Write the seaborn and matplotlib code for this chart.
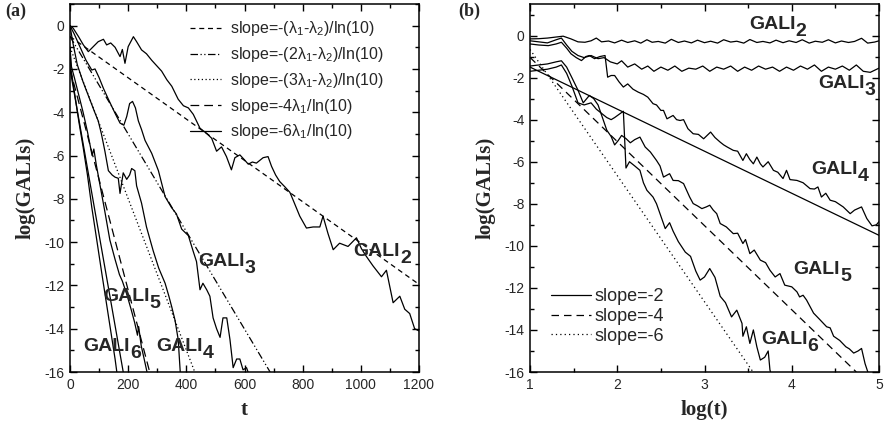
import matplotlib
matplotlib.use('Agg')
import matplotlib.pyplot as plt
import seaborn as sns
from matplotlib.ticker import MultipleLocator

# ---- panel (a): log(GALI) vs t ----
t2 = [0, 11, 29, 46, 63, 80, 97, 115, 126, 140, 155, 172, 180, 189, 200, 218, 229, 246,
      263, 281, 298, 315, 333, 350, 372, 390, 407, 424, 447, 469, 487, 504, 521, 538, 555,
      567, 584, 600, 613, 627, 641, 664, 681, 693, 707, 721, 739, 756, 767, 790, 813, 836,
      859, 870, 887, 905, 927, 956, 985, 1002, 1019, 1042, 1071, 1088, 1111, 1134, 1151,
      1168, 1185, 1200]
a_gali2 = [0, -0.12, -0.5, -0.89, -1.2, -0.97, -0.74, -0.63, -0.89, -0.8, -1.0, -1.43, -1.1,
           -1.74, -0.97, -0.51, -0.74, -1.12, -1.3, -1.6, -1.85, -2.1, -2.5, -2.8, -3.4, -3.7,
           -3.8, -4.1, -4.74, -4.97, -5.2, -5.8, -5.6, -6.05, -6.66, -6.1, -5.97, -6.2, -6.4,
           -6.3, -6.35, -6.1, -6.05, -6.5, -6.9, -7.2, -7.45, -7.7, -8.05, -8.8, -9.35, -9.3,
           -9.3, -8.8, -9.6, -10.35, -10.05, -10.2, -9.8, -10.3, -10.66, -11.1, -11.6, -11.3,
           -12.8, -12.5, -13.1, -13.3, -14.0, -14.1]

t3 = [0, 15, 35, 55, 75, 86, 100, 115, 132, 155, 172, 185, 195, 205, 215, 225, 235, 246,
      258, 281, 304, 327, 349, 366, 384, 407, 423, 435, 447, 457, 470, 481, 492, 504, 516,
      526, 539, 550, 561, 573, 584, 595, 607, 620]
a_gali3 = [0, -0.4, -1.0, -1.6, -2.05, -2.0, -2.4, -2.9, -3.4, -4.05, -4.5, -4.6, -4.2, -3.6,
           -3.5, -3.8, -4.4, -4.8, -5.3, -5.9, -6.7, -7.9, -8.4, -8.7, -9.4, -9.7, -10.4,
           -10.9, -12.2, -11.9, -12.2, -12.5, -13.5, -14.0, -14.4, -13.5, -13.5, -14.5, -15.8,
           -15.4, -15.4, -15.9, -15.8, -16.3]

t4 = [0, 10, 25, 45, 65, 85, 97, 108, 120, 132, 145, 155, 166, 172, 183, 195, 205, 212, 223,
      229, 246, 263, 286, 305, 327, 340, 350, 361, 372, 380]
a_gali4 = [0, -0.8, -1.8, -2.6, -3.3, -4.0, -4.4, -5.0, -5.8, -6.7, -6.9, -7.0, -7.05, -7.75,
           -6.8, -7.1, -6.9, -6.6, -6.7, -7.4, -8.2, -9.3, -10.4, -11.2, -11.9, -12.5, -13.0,
           -13.6, -14.5, -16.2]

t5 = [0, 5, 15, 30, 45, 60, 76, 82, 90, 105, 120, 137, 155, 170, 180, 195, 210, 222, 232,
      236, 245, 255, 268]
a_gali5 = [-1.0, -1.9, -2.4, -3.2, -4.0, -4.9, -6.0, -5.7, -6.4, -7.5, -8.6, -9.9, -10.8,
           -11.5, -11.8, -12.4, -13.1, -13.7, -14.3, -13.9, -14.8, -15.4, -16.2]

t6 = [0, 3, 10, 20, 30, 45, 60, 75, 92, 110, 125, 140, 155, 163]
a_gali6 = [-1.0, -2.0, -2.6, -3.5, -4.4, -5.6, -6.9, -8.4, -9.9, -11.5, -12.8, -14.1, -15.4,
           -16.2]

# reference slopes in (a): endpoints (t, log GALI)
a_ref_labels = ['slope=-(λ$_1$-λ$_2$)/ln(10)', 'slope=-(2λ$_1$-λ$_2$)/ln(10)',
                'slope=-(3λ$_1$-λ$_2$)/ln(10)', 'slope=-4λ$_1$/ln(10)',
                'slope=-6λ$_1$/ln(10)']
a_ref_t = [[0, 1200], [0, 688], [0, 429], [0, 274], [0, 183]]
a_ref_y = [[-0.5, -11.95], [-0.5, -16], [-1.0, -16], [-2.0, -16], [-2.0, -16]]
a_ref_ls = [(0, (4, 3)), (0, (6, 2, 1, 2, 1, 2)), (0, (1, 2)), (0, (7, 4)), '-']

# ---- panel (b): log(GALI) vs log(t) ----
b_x2 = [1.0, 1.1, 1.2, 1.28, 1.38, 1.47, 1.55, 1.63, 1.7, 1.76, 1.82, 1.9, 1.97, 2.05, 2.12,
        2.2, 2.27, 2.34, 2.4, 2.47, 2.55, 2.62, 2.7, 2.77, 2.85, 2.92, 3.0, 3.07, 3.15, 3.22,
        3.3, 3.37, 3.45, 3.52, 3.6, 3.67, 3.75, 3.82, 3.9, 3.97, 4.05, 4.12, 4.2, 4.27, 4.35,
        4.42, 4.5, 4.57, 4.65, 4.72, 4.8, 4.87, 4.95, 5.0]
b_gali2 = [-0.16, -0.15, -0.12, -0.08, -0.03, -0.16, -0.3, -0.32, -0.25, -0.12, -0.3, -0.26,
           -0.35, -0.22, -0.33, -0.25, -0.36, -0.2, -0.32, -0.28, -0.36, -0.18, -0.33, -0.26,
           -0.35, -0.22, -0.34, -0.27, -0.36, -0.2, -0.31, -0.27, -0.36, -0.19, -0.33, -0.28,
           -0.35, -0.22, -0.34, -0.25, -0.33, -0.2, -0.36, -0.27, -0.32, -0.2, -0.35, -0.26,
           -0.33, -0.28, -0.13, -0.36, -0.31, -0.25]

b_x3 = [1.0, 1.1, 1.2, 1.3, 1.36, 1.42, 1.48, 1.55, 1.62, 1.7, 1.78, 1.85, 1.92, 2.0, 2.05,
        2.12, 2.2, 2.28, 2.35, 2.42, 2.5, 2.58, 2.66, 2.74, 2.82, 2.9, 2.98, 3.06, 3.14, 3.22,
        3.3, 3.38, 3.46, 3.54, 3.62, 3.7, 3.78, 3.86, 3.94, 4.02, 4.1, 4.18, 4.26, 4.34, 4.42,
        4.5, 4.58, 4.66, 4.74, 4.82, 4.9, 5.0]
b_gali3 = [-0.25, -0.3, -0.35, -0.2, -0.12, -0.45, -0.75, -0.95, -1.05, -0.95, -1.1, -1.05,
           -1.25, -1.35, -1.2, -1.5, -1.35, -1.6, -1.45, -1.7, -1.5, -1.65, -1.45, -1.7, -1.55,
           -1.6, -1.45, -1.7, -1.5, -1.6, -1.45, -1.7, -1.5, -1.65, -1.45, -1.6, -1.5, -1.7,
           -1.5, -1.65, -1.45, -1.6, -1.4, -1.7, -1.5, -1.6, -1.45, -1.65, -1.4, -1.7, -1.75,
           -1.55]

b_x4 = [1.0, 1.1, 1.21, 1.3, 1.36, 1.42, 1.47, 1.53, 1.59, 1.64, 1.68, 1.74, 1.8, 1.86, 1.89,
        1.93, 1.97, 2.02, 2.07, 2.12, 2.18, 2.24, 2.3, 2.35, 2.41, 2.45, 2.5, 2.53, 2.57, 2.64,
        2.68, 2.72, 2.76, 2.81, 2.87, 2.93, 2.99, 3.07, 3.12, 3.18, 3.22, 3.26, 3.33, 3.38,
        3.44, 3.48, 3.52, 3.56, 3.6, 3.64, 3.67, 3.73, 3.79, 3.84, 3.9, 3.94, 3.98, 4.06, 4.13,
        4.21, 4.26, 4.3, 4.34, 4.39, 4.44, 4.5, 4.59, 4.67, 4.72, 4.8, 4.86, 4.92, 4.97, 5.0]
b_gali4 = [-0.4, -0.45, -0.48, -0.4, -0.32, -0.6, -0.87, -1.05, -1.19, -1.0, -0.95, -1.1,
           -1.0, -0.95, -1.98, -1.9, -1.9, -2.2, -2.45, -2.3, -2.55, -2.69, -2.8, -2.93, -3.24,
           -3.3, -3.56, -3.56, -3.96, -3.8, -4.0, -4.04, -4.0, -4.43, -4.67, -4.7, -4.91, -4.59,
           -4.85, -5.07, -5.2, -5.3, -5.46, -5.5, -5.94, -5.62, -5.9, -6.1, -5.78, -6.1, -6.25,
           -6.0, -6.41, -6.5, -6.8, -6.41, -6.85, -6.89, -7.0, -7.28, -7.3, -7.2, -7.68, -7.5,
           -7.83, -7.9, -8.15, -8.47, -8.3, -8.15, -8.7, -9.05, -9.0, -8.85]

b_x5 = [1.0, 1.1, 1.2, 1.3, 1.36, 1.42, 1.48, 1.55, 1.61, 1.68, 1.73, 1.78, 1.83, 1.88, 1.93,
        1.97, 2.01, 2.05, 2.1, 2.15, 2.2, 2.26, 2.32, 2.38, 2.45, 2.49, 2.53, 2.6, 2.64, 2.7,
        2.76, 2.83, 2.87, 2.92, 2.97, 3.02, 3.06, 3.1, 3.14, 3.18, 3.25, 3.33, 3.38, 3.44,
        3.47, 3.52, 3.57, 3.64, 3.7, 3.75, 3.81, 3.865, 3.92, 4.0, 4.06, 4.09, 4.13, 4.17,
        4.25, 4.32, 4.4, 4.44, 4.48, 4.55, 4.62, 4.66, 4.71, 4.76, 4.8, 4.84, 4.88]
b_gali5 = [-1.45, -1.4, -1.35, -1.25, -1.2, -1.5, -2.0, -2.6, -3.2, -2.85, -3.0, -3.3, -3.9,
           -4.5, -4.8, -5.2, -5.0, -4.75, -4.9, -5.1, -4.95, -4.83, -5.3, -5.54, -5.94, -6.2,
           -6.73, -6.57, -6.89, -6.9, -7.04, -7.68, -7.99, -8.1, -8.23, -8.15, -8.07, -8.3,
           -8.47, -8.94, -9.1, -9.42, -9.4, -9.89, -9.7, -10.37, -10.2, -10.68, -10.8, -11.16,
           -11.48, -11.32, -11.87, -11.95, -12.19, -12.43, -12.35, -12.58, -13.2, -13.5,
           -13.85, -13.9, -14.3, -14.5, -14.8, -14.9, -15.1, -15.0, -14.88, -15.6, -16.1]

b_x6 = [1.0, 1.1, 1.2, 1.3, 1.36, 1.42, 1.48, 1.55, 1.62, 1.7, 1.76, 1.82, 1.88, 1.93, 1.97,
        2.02, 2.07, 2.1, 2.14, 2.2, 2.26, 2.3, 2.34, 2.41, 2.45, 2.49, 2.55, 2.6, 2.64, 2.7,
        2.78, 2.84, 2.9, 2.95, 3.0, 3.06, 3.12, 3.18, 3.24, 3.31, 3.37, 3.43, 3.44, 3.48, 3.52,
        3.56, 3.6, 3.64, 3.69, 3.73, 3.75, 3.77]
b_gali6 = [-1.7, -1.65, -1.6, -1.5, -1.4, -1.8, -2.4, -3.2, -3.3, -3.2, -3.5, -3.7, -3.9,
           -4.0, -3.9, -3.75, -3.6, -6.3, -6.0, -6.2, -6.41, -7.0, -7.36, -7.68, -8.0, -8.47,
           -9.18, -8.9, -9.3, -9.8, -10.3, -10.5, -11.2, -11.63, -11.48, -11.08, -11.5, -12.4,
           -12.7, -13.38, -13.06, -13.69, -14.3, -13.85, -14.64, -14.0, -14.8, -15.43, -15.3,
           -15.0, -15.9, -16.2]

b_ref_labels = ['slope=-2', 'slope=-4', 'slope=-6']
b_ref_x = [[1, 5], [1, 4.74], [1, 3.557]]
b_ref_y = [[-1.5, -9.5], [-1.04, -16], [-0.66, -16]]
b_ref_ls = ['-', (0, (6, 4)), (0, (1, 2.5))]

sns.set_style('ticks')
plt.rcParams['font.family'] = ['Liberation Sans', 'DejaVu Sans']
plt.rcParams['mathtext.default'] = 'regular'
plt.rcParams['axes.unicode_minus'] = False

fig = plt.figure(figsize=(8.85, 4.34), dpi=100)
axa = fig.add_axes([70 / 885, 1 - 372 / 434, 349 / 885, 368 / 434])
axb = fig.add_axes([530 / 885, 1 - 372 / 434, 349 / 885, 368 / 434])

lw = 0.9
for x, y in [(t2, a_gali2), (t3, a_gali3), (t4, a_gali4), (t5, a_gali5), (t6, a_gali6)]:
    sns.lineplot(x=x, y=y, ax=axa, color='black', lw=lw, estimator=None, sort=False)
for x, y, ls, lab in zip(a_ref_t, a_ref_y, a_ref_ls, a_ref_labels):
    axa.plot(x, y, color='black', lw=lw, linestyle=ls, label=lab)

for x, y in [(b_x2, b_gali2), (b_x3, b_gali3), (b_x4, b_gali4), (b_x5, b_gali5),
             (b_x6, b_gali6)]:
    sns.lineplot(x=x, y=y, ax=axb, color='black', lw=lw, estimator=None, sort=False)
for x, y, ls, lab in zip(b_ref_x, b_ref_y, b_ref_ls, b_ref_labels):
    axb.plot(x, y, color='black', lw=lw, linestyle=ls, label=lab)


def style(ax, xlim, ylim, xmaj, xmin):
    ax.set_xlim(*xlim)
    ax.set_ylim(*ylim)
    ax.xaxis.set_major_locator(MultipleLocator(xmaj))
    ax.xaxis.set_minor_locator(MultipleLocator(xmin))
    ax.yaxis.set_major_locator(MultipleLocator(2))
    ax.yaxis.set_minor_locator(MultipleLocator(1))
    ax.tick_params(which='both', direction='in', top=True, right=True, width=1,
                   labelsize=10, color='black', pad=4)
    ax.tick_params(which='major', length=5)
    ax.tick_params(which='minor', length=3)
    for sp in ax.spines.values():
        sp.set_linewidth(1.1)
        sp.set_color('black')
    ax.set_ylabel('log(GALIs)', family='Liberation Serif', fontweight='bold', fontsize=15,
                  labelpad=6)


style(axa, (0, 1200), (-16, 1.0), 200, 100)
style(axb, (1, 5), (-16, 1.5), 1, 0.5)
axa.set_xlabel('t', family='Liberation Serif', fontweight='bold', fontsize=15, labelpad=6)
axb.set_xlabel('log(t)', family='Liberation Serif', fontweight='bold', fontsize=15,
               labelpad=6)

axa.legend(loc='upper left', bbox_to_anchor=(0.315, 0.984), frameon=False, fontsize=11.5,
           handlelength=2.0, handletextpad=0.55, labelspacing=0.42, borderaxespad=0.2)
axb.legend(loc='lower left', bbox_to_anchor=(0.03, 0.045), frameon=False, fontsize=13,
           handlelength=2.2, handletextpad=0.2, labelspacing=0.15, borderaxespad=0.2)


def gali(ax, x, y, k):
    kw = dict(fontsize=14, fontweight='bold', family='Liberation Sans', va='baseline',
              ha='left')
    ax.text(x, y, 'GALI', **kw)
    ax.annotate(str(k), (x, y), xytext=(33.5, -5), textcoords='offset points', **kw)


gali(axa, 975, -10.66, 2)
gali(axa, 441, -11.1, 3)
gali(axa, 114, -12.7, 5)
gali(axa, 46, -15.05, 6)
gali(axa, 298, -15.05, 4)

gali(axb, 3.51, 0.32, 2)
gali(axb, 4.30, -2.49, 3)
gali(axb, 4.22, -6.58, 4)
gali(axb, 4.02, -11.33, 5)
gali(axb, 3.645, -14.66, 6)

fig.text(5 / 885, 1 - 3 / 434, '(a)', family='Liberation Serif', fontweight='bold',
         fontsize=13, va='top', ha='left')
fig.text(458 / 885, 1 - 3 / 434, '(b)', family='Liberation Serif', fontweight='bold',
         fontsize=13, va='top', ha='left')

fig.savefig('out.png', dpi=100)
